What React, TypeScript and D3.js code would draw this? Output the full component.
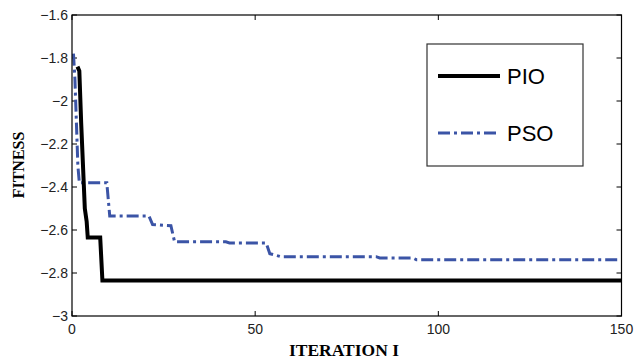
import * as d3 from 'd3'
import { useEffect, useRef } from 'react';

// iteration / fitness pairs
const pioIter = [1.5, 2, 2.5, 3, 3.5, 4, 4.3, 7.7, 8.3, 150];
const pioFit = [-1.84, -1.86, -2.1, -2.3, -2.5, -2.56, -2.635, -2.635, -2.835, -2.835];

const psoIter = [0.4, 0.8, 1.2, 1.6, 2, 9.5, 10.3, 21, 22, 27, 28, 42, 43, 53, 54, 57, 83, 84, 93, 94, 150];
const psoFit = [-1.78, -1.9, -2.1, -2.3, -2.38, -2.38, -2.535, -2.535, -2.575, -2.58, -2.655, -2.655, -2.66, -2.66, -2.71, -2.724, -2.724, -2.73, -2.73, -2.738, -2.738];

const xTicks = [0, 50, 100, 150];
const yTicks = [-3, -2.8, -2.6, -2.4, -2.2, -2, -1.8, -1.6];
const seriesNames = ['PIO', 'PSO'];

function App() {
    const ref = useRef<SVGSVGElement>(null);

    useEffect(() => {
        const svg = d3.select(ref.current);
        svg.selectAll('*').remove();

        const L = 72, R = 621.5, T = 15, B = 316;
        const x = d3.scaleLinear().domain([0, 150]).range([L, R]);
        const y = d3.scaleLinear().domain([-3, -1.6]).range([B, T]);

        svg.append('rect').attr('width', 642).attr('height', 360).attr('fill', 'white');

        const g = svg.append('g');
        const tickFont = 'Arial, "Liberation Sans", sans-serif';

        // ticks (inward, on all sides)
        xTicks.forEach(t => {
            g.append('line').attr('x1', x(t)).attr('x2', x(t)).attr('y1', B).attr('y2', B - 5).attr('stroke', '#000');
            g.append('line').attr('x1', x(t)).attr('x2', x(t)).attr('y1', T).attr('y2', T + 5).attr('stroke', '#000');
            g.append('text').attr('x', x(t)).attr('y', B + 18).attr('text-anchor', 'middle')
                .attr('font-family', tickFont).attr('font-size', 14).attr('fill', '#222').text(t);
        });
        yTicks.forEach(t => {
            g.append('line').attr('x1', L).attr('x2', L + 5).attr('y1', y(t)).attr('y2', y(t)).attr('stroke', '#000');
            g.append('line').attr('x1', R).attr('x2', R - 5).attr('y1', y(t)).attr('y2', y(t)).attr('stroke', '#000');
            g.append('text').attr('x', L - 4).attr('y', y(t)).attr('dy', '0.35em').attr('text-anchor', 'end')
                .attr('font-family', tickFont).attr('font-size', 14).attr('fill', '#222').text(d3.format('')(t));
        });

        const line = d3.line<[number, number]>().x(d => x(d[0])).y(d => y(d[1]));
        const pio = pioIter.map((v, i) => [v, pioFit[i]] as [number, number]);
        const pso = psoIter.map((v, i) => [v, psoFit[i]] as [number, number]);

        g.append('path').attr('d', line(pso)).attr('fill', 'none').attr('stroke', '#3b54a6')
            .attr('stroke-width', 3).attr('stroke-dasharray', '12,4,3,4');
        g.append('path').attr('d', line(pio)).attr('fill', 'none').attr('stroke', '#000')
            .attr('stroke-width', 4);

        // box
        g.append('rect').attr('x', L).attr('y', T).attr('width', R - L).attr('height', B - T)
            .attr('fill', 'none').attr('stroke', '#000').attr('stroke-width', 1.2);

        // legend
        const lg = svg.append('g');
        lg.append('rect').attr('x', 427).attr('y', 44).attr('width', 156).attr('height', 122)
            .attr('fill', 'white').attr('stroke', '#333').attr('stroke-width', 1.2);
        const legY = [76, 133];
        seriesNames.forEach((n, i) => {
            const l = lg.append('line').attr('x1', 438).attr('x2', 500).attr('y1', legY[i]).attr('y2', legY[i]);
            if (i === 0) l.attr('stroke', '#000').attr('stroke-width', 4);
            else l.attr('stroke', '#3b54a6').attr('stroke-width', 3).attr('stroke-dasharray', '12,4,3,4');
            lg.append('text').attr('x', 507).attr('y', legY[i]).attr('dy', '0.36em')
                .attr('font-family', tickFont).attr('font-size', 22).attr('fill', '#000').text(n);
        });

        // axis titles
        svg.append('text').attr('x', 344).attr('y', 356).attr('text-anchor', 'middle')
            .attr('font-family', '"Liberation Serif", "Times New Roman", serif').attr('font-weight', 'bold')
            .attr('font-size', 17.5).text('ITERATION I');
        svg.append('text').attr('transform', 'translate(24,165) rotate(-90)').attr('text-anchor', 'middle')
            .attr('font-family', '"Liberation Serif", "Times New Roman", serif').attr('font-weight', 'bold')
            .attr('font-size', 16).text('FITNESS');
    });

    return (
        <svg ref={ref} width={642} height={360} style={{ display: 'block', position: 'absolute', left: 0, top: 0 }}></svg>
    );
}

export default App;
